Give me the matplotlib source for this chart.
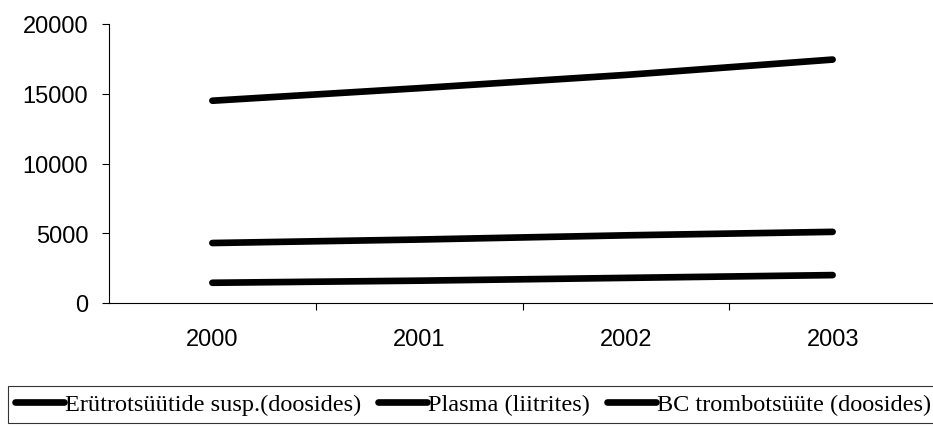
import matplotlib
matplotlib.use("Agg")
import matplotlib.pyplot as plt
import numpy as np

years = ["2000", "2001", "2002", "2003"]
erytro = [14500, 15400, 16350, 17450]
plasma = [4300, 4550, 4850, 5100]
bc = [1450, 1600, 1800, 2000]
labels = ["Erütrotsüütide susp.(doosides)", "Plasma (liitrites)", "BC trombotsüüte (doosides)"]
yticks = [0, 5000, 10000, 15000, 20000]

W, H = 933, 427
fig = plt.figure(figsize=(W/100, H/100), dpi=100)
ax = fig.add_axes([109/W, 1-304/H, (936-109)/W, (304-25)/H])

x = np.arange(len(years))
handles = []
for vals, lab in zip([erytro, plasma, bc], labels):
    h, = ax.plot(x, vals, color="black", lw=4.8, solid_capstyle="round", label=lab)
    handles.append(h)

ax.set_xlim(-0.5, len(years) - 0.5)
ax.set_ylim(0, 20000)
ax.set_yticks(yticks)
ax.set_yticklabels([str(v) for v in yticks], fontsize=17, family="Liberation Sans")
ax.tick_params(axis="y", length=5, width=0.8, pad=10)

ax.set_xticks(np.arange(0.5, len(years) - 0.5, 1))
ax.set_xticklabels([])
ax.tick_params(axis="x", which="major", length=5, width=0.8, direction="out")
ax.set_xticks(x, minor=True)
ax.set_xticklabels(years, minor=True, fontsize=17, family="Liberation Sans")
ax.tick_params(axis="x", which="minor", length=0, pad=18)

for s in ["top", "right"]:
    ax.spines[s].set_visible(False)
for s in ["left", "bottom"]:
    ax.spines[s].set_linewidth(0.8)

leg = fig.legend(handles=handles, labels=labels, loc="upper left",
                 bbox_to_anchor=(8/W, 1-387/H), ncol=3, frameon=True,
                 fancybox=False, edgecolor="black", borderaxespad=0,
                 prop={"family": "Liberation Serif", "size": 17.5},
                 handlelength=2.0, handletextpad=0.05, columnspacing=0.7,
                 borderpad=0.3)
leg.get_frame().set_linewidth(0.8)

fig.savefig("out.png", dpi=100)
